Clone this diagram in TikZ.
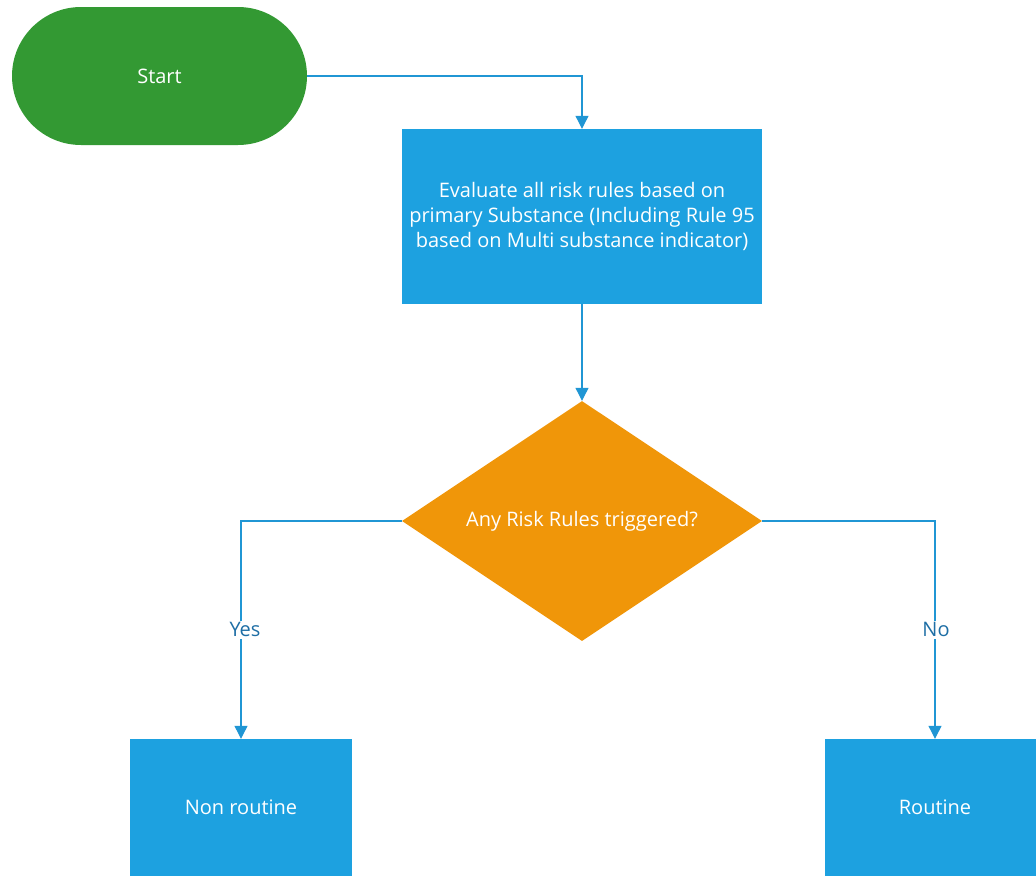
\documentclass[tikz,border=0pt]{standalone}
\usepackage{fontspec}
\setmainfont{Open Sans}
\usetikzlibrary{shapes.geometric,shapes.misc,arrows.meta}
\definecolor{startgreen}{RGB}{51,153,51}
\definecolor{boxblue}{RGB}{29,161,224}
\definecolor{decorange}{RGB}{240,150,9}
\definecolor{linecol}{RGB}{32,150,212}
\definecolor{labcol}{RGB}{30,110,165}
\tikzset{
  every node/.style={font=\fontsize{20}{25}\selectfont},
  startbox/.style={rounded rectangle, fill=startgreen, text=white, minimum width=295pt, minimum height=138pt, inner sep=0pt},
  procbox/.style={rectangle, fill=boxblue, text=white, align=center, inner sep=0pt},
  decbox/.style={diamond, fill=decorange, text=white, minimum width=360pt, minimum height=240pt, inner sep=0pt, aspect=1.5},
  conn/.style={draw=linecol, line width=1.1pt, -{Triangle[length=13pt,width=13pt]}},
  lab/.style={fill=white, text=labcol, inner sep=2pt}
}
\begin{document}
\begin{tikzpicture}[x=1pt,y=-1pt]
\useasboundingbox (0,0) rectangle (1036,876);
\clip (0,0) rectangle (1036,876);
\node[startbox] (start) at (159.5,76) {Start};
\node[procbox, minimum width=360pt, minimum height=175pt] (eval) at (582,216.5)
  {Evaluate all risk rules based on\\primary Substance (Including Rule 95\\based on Multi substance indicator)};
\node[decbox] (dec) at (582,521) {Any Risk Rules triggered?};
\node[procbox, minimum width=222pt, minimum height=137pt] (nonr) at (241,807.5) {Non routine};
\node[procbox, minimum width=220pt, minimum height=137pt] (rout) at (935,807.5) {Routine};
\draw[conn] (start.east) -| (eval.north);
\draw[conn] (eval.south) -- (dec.north);
\draw[conn] (dec.west) -| node[lab, pos=0.75, xshift=4pt] (yes) {Yes} (nonr.north);
\draw[conn] (dec.east) -| node[lab, pos=0.75, xshift=1pt] (no) {No} (rout.north);
\end{tikzpicture}
\end{document}
